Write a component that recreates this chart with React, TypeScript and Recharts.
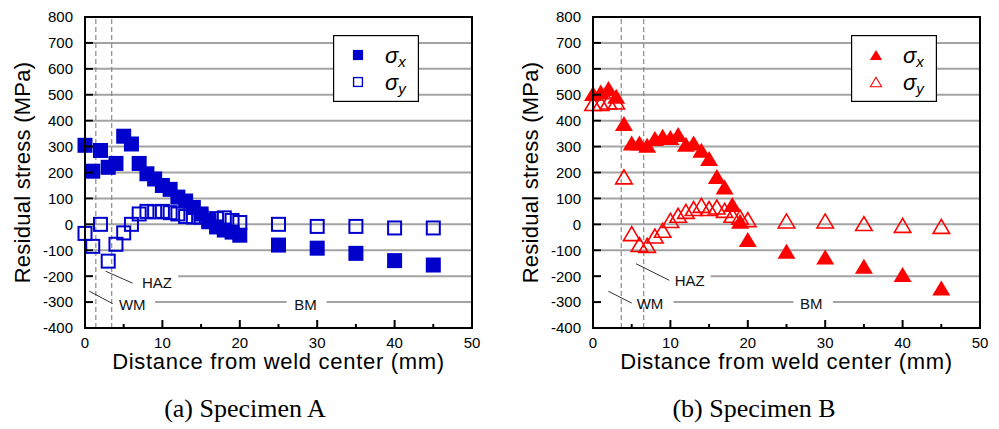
import React from "react";
import {
  ReferenceDot,
  ReferenceLine,
  Scatter,
  ScatterChart,
  XAxis,
  YAxis,
} from "recharts";

const BLUE = "#0000cc";
const RED = "#ff0000";
const GRID = "#a3a3a3";
const DASH = "#8a8a8a";
const INK = "#000000";
const SANS = "'Liberation Sans', Arial, Helvetica, sans-serif";
const SERIF = "'Liberation Serif', 'Times New Roman', serif";

// measurement positions (mm from weld center)
const distance = [
  0, 1, 2, 3, 4, 5, 6, 7, 8, 9, 10, 11, 12, 13, 14, 15, 16, 17, 18, 19, 20, 25, 30, 35, 40, 45,
];

// Specimen A (MPa)
const sigmaXA = [
  305, 205, 285, 220, 235, 340, 310, 235, 195, 175, 150, 135, 105, 90, 65, 40, 10, -10, -22, -30,
  -42, -80, -92, -112, -140, -157,
];
const sigmaYA = [
  -35, -85, 0, -142, -77, -33, 0, 40, 50, 48, 50, 45, 40, 30, 28, 28, 15, 22, 25, 15, 7, 0, -8,
  -8, -14, -14,
];

// Specimen B (MPa)
const sigmaXB = [
  505, 511, 524, 494, 389, 314, 314, 305, 331, 340, 335, 347, 309, 314, 286, 254, 185, 144, 77,
  12, -59, -104, -126, -162, -194, -246,
];
const sigmaYB = [
  466, 466, 472, 472, 183, -36, -78, -81, -45, -23, 15, 35, 50, 61, 73, 61, 67, 54, 35, 28, 18,
  13, 13, 3, -4, -8,
];

const xTicks = [0, 5, 10, 15, 20, 25, 30, 35, 40, 45, 50];
const yTicks = [-400, -300, -200, -100, 0, 100, 200, 300, 400, 500, 600, 700, 800];
const fullGrid = [-100, 0, 100, 200, 300, 400, 500, 600, 700];
const GRID_START = 1.05; // gridlines start just past the inward y tick marks

// plot box inside each chart (margins + axis sizes below)
const PLOT = { left: 85, top: 17, width: 387, height: 311 };

type Pt = { x: number; y: number };
const toPoints = (ys: number[]): Pt[] => distance.map((x, i) => ({ x, y: ys[i] }));

type Seg = [number, number];
type Note = { text: string; x: number; y: number };
type Leader = { x1: number; y1: number; x2: number; y2: number };

type PanelCfg = {
  left: number;
  width: number;
  marginRight: number;
  marker: "square" | "triangle";
  color: string;
  sx: number[];
  sy: number[];
  dashes: number[];
  grid200: Seg[];
  grid300: Seg[];
  notes: Note[];
  leaders: Leader[];
  legendLeft: number;
  caption: string;
};

const panels: PanelCfg[] = [
  {
    left: 0,
    width: 500,
    marginRight: 28,
    marker: "square",
    color: BLUE,
    sx: sigmaXA,
    sy: sigmaYA,
    dashes: [1.4, 3.45],
    grid200: [[12.05, 50]],
    grid300: [
      [9.05, 26.05],
      [31.2, 50],
    ],
    notes: [
      { text: "HAZ", x: 9.3, y: -226 },
      { text: "WM", x: 6.1, y: -311 },
      { text: "BM", x: 28.5, y: -311 },
    ],
    leaders: [
      { x1: 2.67, y1: -181, x2: 6.15, y2: -227 },
      { x1: 0.56, y1: -258, x2: 3.58, y2: -306 },
    ],
    legendLeft: 333,
    caption: "(a) Specimen A",
  },
  {
    left: 508,
    width: 491,
    marginRight: 19,
    marker: "triangle",
    color: RED,
    sx: sigmaXB,
    sy: sigmaYB,
    dashes: [3.65, 6.55],
    grid200: [[15.2, 50]],
    grid300: [
      [10.4, 25.9],
      [31.0, 50],
    ],
    notes: [
      { text: "HAZ", x: 12.5, y: -218 },
      { text: "WM", x: 7.36, y: -305 },
      { text: "BM", x: 28.2, y: -305 },
    ],
    leaders: [
      { x1: 5.56, y1: -152, x2: 9.86, y2: -216 },
      { x1: 1.98, y1: -258, x2: 5.0, y2: -304 },
    ],
    legendLeft: 343,
    caption: "(b) Specimen B",
  },
];

function markerShape(kind: "square" | "triangle", filled: boolean, color: string) {
  return (props: any) => {
    const { cx, cy } = props;
    if (cx == null || cy == null) return <g />;
    if (kind === "square") {
      return filled ? (
        <rect x={cx - 7.5} y={cy - 7.5} width={15} height={15} fill={color} />
      ) : (
        <rect
          x={cx - 6.5}
          y={cy - 6.5}
          width={13}
          height={13}
          fill="none"
          stroke={color}
          strokeWidth={2}
        />
      );
    }
    const w = filled ? 18 : 16.5;
    const h = filled ? 15 : 14;
    const pts = `${cx},${cy - h / 2} ${cx - w / 2},${cy + h / 2} ${cx + w / 2},${cy + h / 2}`;
    return filled ? (
      <polygon points={pts} fill={color} />
    ) : (
      <polygon points={pts} fill="none" stroke={color} strokeWidth={1.6} strokeLinejoin="miter" />
    );
  };
}

function XTick(props: any) {
  const { x, y, payload } = props;
  const major = payload.value % 10 === 0;
  if (!major) return <g />;
  return (
    <text x={x} y={y} dy="0.71em" textAnchor="middle" fontSize={15} fontFamily={SANS} fill={INK}>
      {payload.value}
    </text>
  );
}

function YTick(props: any) {
  const { x, y, payload } = props;
  return (
    <text x={x} y={y} dy="0.36em" textAnchor="end" fontSize={15} fontFamily={SANS} fill={INK}>
      {payload.value}
    </text>
  );
}

const noteShape = (text: string) => (p: any) =>
  (
    <text x={p.cx} y={p.cy} dy="0.36em" textAnchor="middle" fontSize={15} fontFamily={SANS} fill="#111">
      {text}
    </text>
  );

// black frame + inward tick marks laid over the plot box
function Frame() {
  const px = (v: number) => PLOT.left + (v / 50) * PLOT.width;
  const py = (v: number) => PLOT.top + ((800 - v) / 1200) * PLOT.height;
  const bottom = PLOT.top + PLOT.height;
  return (
    <svg
      width={PLOT.left + PLOT.width + 4}
      height={bottom + 4}
      style={{ position: "absolute", left: 0, top: 0, pointerEvents: "none" }}
    >
      {xTicks.map((v) => (
        <line
          key={`xt${v}`}
          x1={px(v)}
          x2={px(v)}
          y1={bottom}
          y2={bottom - (v % 10 === 0 ? 8 : 4)}
          stroke={INK}
          strokeWidth={2}
        />
      ))}
      {yTicks.map((v) => (
        <line
          key={`yt${v}`}
          x1={PLOT.left}
          x2={PLOT.left + 8}
          y1={py(v)}
          y2={py(v)}
          stroke={INK}
          strokeWidth={2}
        />
      ))}
      <rect
        x={PLOT.left}
        y={PLOT.top}
        width={PLOT.width}
        height={PLOT.height}
        fill="none"
        stroke={INK}
        strokeWidth={2}
      />
    </svg>
  );
}

function LegendBox({ left, marker, color }: { left: number; marker: "square" | "triangle"; color: string }) {
  const filled = markerShape(marker, true, color);
  const open = markerShape(marker, false, color);
  const small = (el: any, cx: number, cy: number) => (
    <g transform={`translate(${cx},${cy}) scale(0.68) translate(${-cx},${-cy})`}>{el}</g>
  );
  return (
    <svg width={86} height={67} style={{ position: "absolute", left, top: 35 }}>
      <rect x={0.6} y={0.6} width={84.8} height={65.8} fill="#fff" stroke={INK} strokeWidth={1.2} />
      {small(filled({ cx: 25, cy: 20 }), 25, 20)}
      {small(open({ cx: 25, cy: 47 }), 25, 47)}
      <text x={52} y={28} fontSize={22} fontStyle="italic" fontFamily={SANS} fill={INK}>
        σ<tspan fontSize={15} dy={4}>x</tspan>
      </text>
      <text x={52} y={55} fontSize={22} fontStyle="italic" fontFamily={SANS} fill={INK}>
        σ<tspan fontSize={15} dy={4}>y</tspan>
      </text>
    </svg>
  );
}

const seg = (x1: number, y1: number, x2: number, y2: number) => [
  { x: x1, y: y1 },
  { x: x2, y: y2 },
];

function Panel({ cfg }: { cfg: PanelCfg }) {
  const xs = toPoints(cfg.sx);
  const ys = toPoints(cfg.sy);
  return (
    <div style={{ position: "absolute", left: cfg.left, top: 0, width: cfg.width, height: 429 }}>
      <ScatterChart
        width={cfg.width}
        height={380}
        margin={{ top: PLOT.top, right: cfg.marginRight, bottom: 0, left: 0 }}
      >
        <XAxis
          type="number"
          dataKey="x"
          domain={[0, 50]}
          ticks={xTicks}
          interval={0}
          tickSize={0}
          tickMargin={9}
          tick={(p: any) => <XTick {...p} />}
          axisLine={false}
          tickLine={false}
          height={52}
          label={{
            value: "Distance from weld center (mm)",
            position: "insideBottom",
            offset: 11,
            fill: INK,
            fontSize: 22,
            fontFamily: SANS,
            style: { letterSpacing: "0.7px" },
          }}
        />
        <YAxis
          type="number"
          dataKey="y"
          domain={[-400, 800]}
          ticks={yTicks}
          interval={0}
          width={PLOT.left}
          tickSize={0}
          tickMargin={12}
          tick={(p: any) => <YTick {...p} />}
          axisLine={false}
          tickLine={false}
          label={{
            value: "Residual stress (MPa)",
            angle: -90,
            position: "insideLeft",
            offset: 22,
            fill: INK,
            fontSize: 22,
            fontFamily: SANS,
            style: { textAnchor: "middle", letterSpacing: "0.25px" },
          }}
        />
        {fullGrid.map((v) => (
          <ReferenceLine key={`g${v}`} segment={seg(GRID_START, v, 50, v)} stroke={GRID} strokeWidth={2} />
        ))}
        {cfg.grid200.map(([a, b]) => (
          <ReferenceLine key={`g200-${a}`} segment={seg(a, -200, b, -200)} stroke={GRID} strokeWidth={2} />
        ))}
        {cfg.grid300.map(([a, b]) => (
          <ReferenceLine key={`g300-${a}`} segment={seg(a, -300, b, -300)} stroke={GRID} strokeWidth={2} />
        ))}
        {cfg.dashes.map((d) => (
          <ReferenceLine
            key={`d${d}`}
            segment={seg(d, -400, d, 800)}
            stroke={DASH}
            strokeWidth={1.2}
            strokeDasharray="5 3"
          />
        ))}
        {cfg.leaders.map((l, i) => (
          <ReferenceLine key={`l${i}`} segment={seg(l.x1, l.y1, l.x2, l.y2)} stroke="#333" strokeWidth={1} />
        ))}
        {cfg.notes.map((n) => (
          <ReferenceDot key={n.text} x={n.x} y={n.y} r={1} shape={noteShape(n.text)} />
        ))}
        <Scatter data={ys} shape={markerShape(cfg.marker, false, cfg.color)} isAnimationActive={false} />
        <Scatter data={xs} shape={markerShape(cfg.marker, true, cfg.color)} isAnimationActive={false} />
      </ScatterChart>
      <Frame />
      <LegendBox left={cfg.legendLeft} marker={cfg.marker} color={cfg.color} />
      <div
        style={{
          position: "absolute",
          left: 0,
          top: 396,
          width: cfg.left === 0 ? 490 : 492,
          textAlign: "center",
          fontFamily: SERIF,
          fontSize: 26,
          lineHeight: "26px",
          color: INK,
        }}
      >
        {cfg.caption}
      </div>
    </div>
  );
}

export default function App() {
  return (
    <div
      style={{
        position: "absolute",
        left: 0,
        top: 0,
        width: 999,
        height: 429,
        background: "#fff",
        overflow: "hidden",
      }}
    >
      {panels.map((p) => (
        <Panel key={p.caption} cfg={p} />
      ))}
    </div>
  );
}
